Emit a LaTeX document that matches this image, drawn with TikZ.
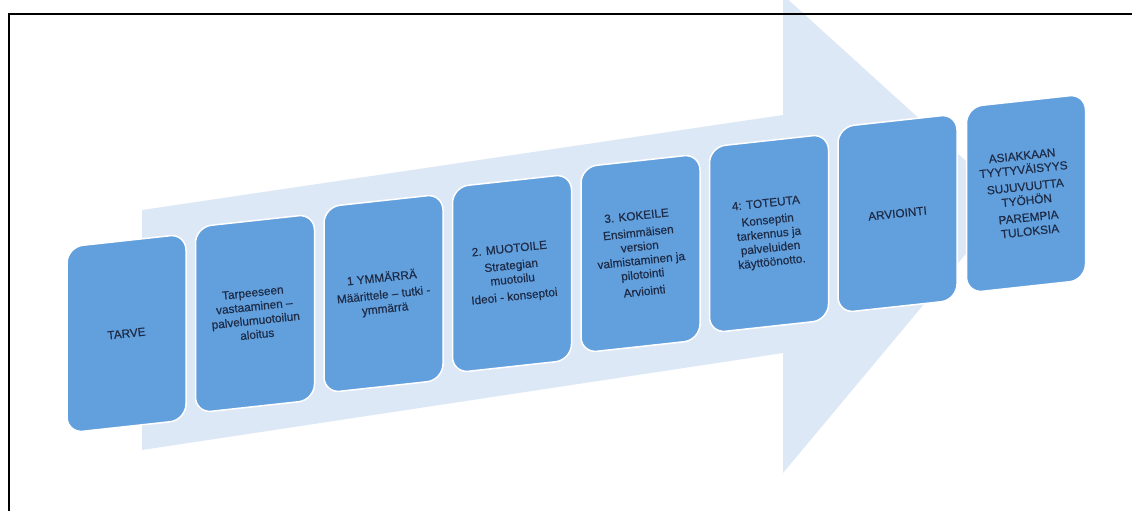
\documentclass[tikz,border=0pt]{standalone}
\usepackage{fontspec}
\setmainfont[FakeBold=0.4]{Liberation Sans}
\definecolor{arrowbg}{HTML}{DDE8F7}
\definecolor{boxblue}{HTML}{62A0DD}
\definecolor{textnavy}{HTML}{1E2B47}
\tikzset{
  boxshape/.style={fill=boxblue, draw=white, line width=1.5pt, rounded corners=16pt},
  boxtext/.style={text=textnavy, align=center, rotate=6, inner sep=0pt,
    font=\fontsize{11.8}{14}\selectfont},
  framerule/.style={draw=black, line width=2pt}
}
% one process step: name, left edge, top-left y, label
\newcommand\procbox[4]{%
  \path[boxshape] (#2,#3) -- ++(119,-13) -- ++(0,186) -- ++(-119,13) -- cycle;
  \node[boxtext] (#1) at ({#2+59.5},{#3+86.5}) {#4};
}
\begin{document}
\begin{tikzpicture}[x=1pt,y=-1pt]
\useasboundingbox (0,0) rectangle (1132,511);
\fill[white] (0,0) rectangle (1132,511);

% large background arrow
\begin{scope}
  \clip (0,0) rectangle (1132,511);
  \fill[arrowbg] (142,210) -- (783,115) -- (783,-5) -- (1010,201)
    -- (783,473) -- (783,353) -- (142,450) -- cycle;
\end{scope}

% frame
\draw[framerule] (9,511) -- (9,14) -- (1132,14);

% process steps
\procbox{tarve}{67}{247}{TARVE}
\procbox{aloitus}{195.5}{227}{Tarpeeseen\\vastaaminen –\\palvelumuotoilun\\aloitus}
\procbox{ymmarra}{324}{207}{1 YMMÄRRÄ\\[3pt]Määrittele – tutki -\\ymmärrä}
\procbox{muotoile}{452.5}{187}{2. MUOTOILE\\[3pt]Strategian\\muotoilu\\[3pt]Ideoi - konseptoi}
\procbox{kokeile}{581}{167}{3. KOKEILE\\[3pt]Ensimmäisen\\version\\valmistaminen ja\\pilotointi\\[3pt]Arviointi}
\procbox{toteuta}{709.5}{147}{4: TOTEUTA\\[3pt]Konseptin\\tarkennus ja\\palveluiden\\käyttöönotto.}
\procbox{arviointi}{838}{127}{ARVIOINTI}
\procbox{tulokset}{966.5}{107}{ASIAKKAAN\\TYYTYVÄISYYS\\[3pt]SUJUVUUTTA\\TYÖHÖN\\[3pt]PAREMPIA\\TULOKSIA}
\end{tikzpicture}
\end{document}
